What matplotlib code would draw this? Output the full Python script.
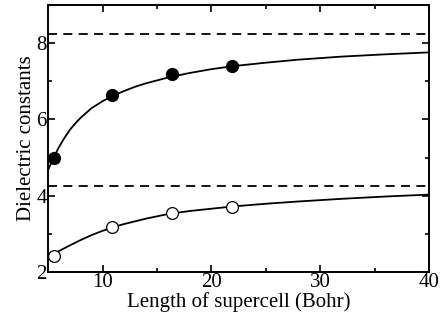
import matplotlib
matplotlib.use("Agg")
import matplotlib.pyplot as plt
from matplotlib.ticker import MultipleLocator

# calculated points (filled: upper set, open: lower set)
cell_len = [5.5, 10.9, 16.4, 21.9]
eps_filled = [5.0, 6.63, 7.2, 7.4]
eps_open = [2.42, 3.18, 3.55, 3.71]

# fitted curves
fit_x_up = [5.0, 5.5, 6, 6.5, 7, 7.5, 8, 9, 10, 11, 12, 13, 14, 16, 18, 20, 22, 25, 28, 32, 36, 40]
fit_y_up = [4.68, 5.0, 5.28, 5.52, 5.73, 5.9, 6.05, 6.3, 6.48, 6.63, 6.75, 6.86, 6.95, 7.1, 7.22, 7.32, 7.4, 7.49, 7.57, 7.65, 7.71, 7.76]
fit_x_lo = [5, 5.5, 6, 7, 8, 9, 10, 11, 12, 14, 16, 18, 20, 22, 25, 28, 32, 36, 40]
fit_y_lo = [2.37, 2.46, 2.55, 2.7, 2.84, 2.97, 3.08, 3.18, 3.26, 3.4, 3.52, 3.6, 3.66, 3.72, 3.79, 3.85, 3.92, 3.98, 4.03]

# bulk limits (dashed)
eps_bulk = [8.25, 4.26]

plt.rcParams['font.family'] = 'Liberation Serif'
plt.rcParams['font.size'] = 15

fig = plt.figure(figsize=(4.46, 3.2), dpi=100)
ax = fig.add_axes([0.108, 0.15, 0.854, 0.834])

for e in eps_bulk:
    ax.axhline(e, color='black', lw=1.3, ls=(0, (5, 3.5)))

ax.plot(fit_x_up, fit_y_up, color='black', lw=1.3)
ax.plot(fit_x_lo, fit_y_lo, color='black', lw=1.3)
ax.plot(cell_len, eps_filled, 'o', color='black', ms=8.5, clip_on=False)
ax.plot(cell_len, eps_open, 'o', mfc='white', mec='black', mew=0.9, ms=8.5, clip_on=False)

ax.set_xlim(5, 40)
ax.set_ylim(2, 9)
ax.xaxis.set_major_locator(MultipleLocator(10))
ax.xaxis.set_minor_locator(MultipleLocator(5))
ax.yaxis.set_major_locator(MultipleLocator(2))
ax.yaxis.set_minor_locator(MultipleLocator(1))
ax.tick_params(which='both', direction='in', top=True, right=True, width=1.2, pad=1)
ax.tick_params(which='major', length=5)
ax.tick_params(which='minor', length=3)
for s in ax.spines.values():
    s.set_linewidth(1.4)

ax.set_xlabel('Length of supercell (Bohr)', labelpad=0)
ax.set_ylabel('Dielectric constants', labelpad=0)

plt.savefig('out.png', dpi=100)
